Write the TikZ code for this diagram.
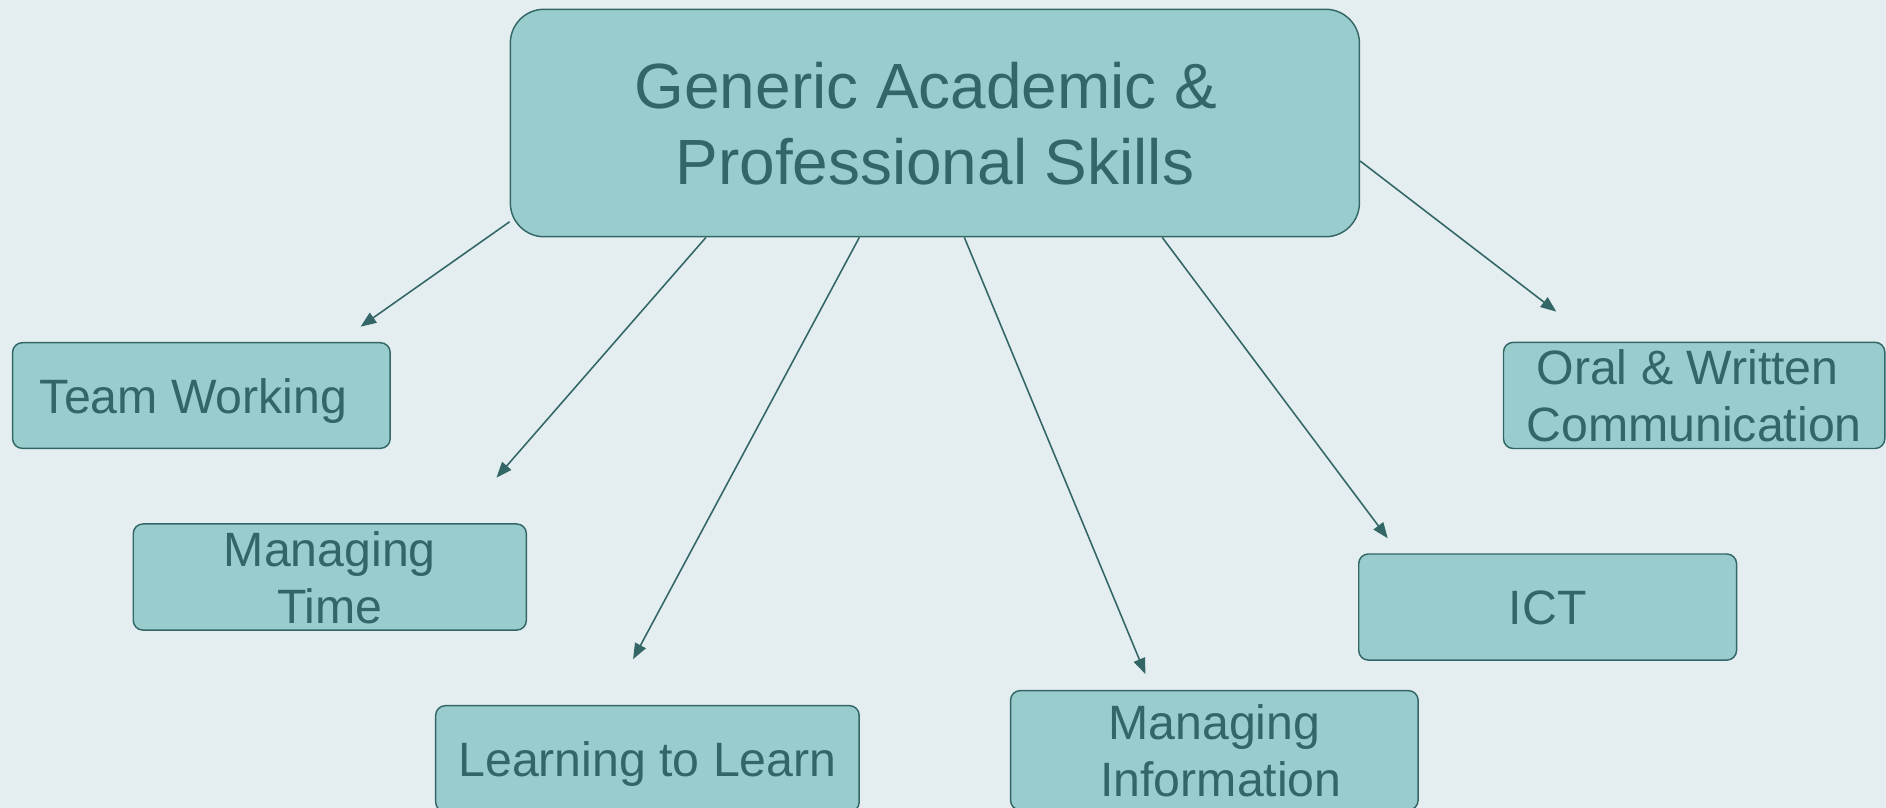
\documentclass[tikz,border=0pt]{standalone}
\usepackage{fontspec}
\setmainfont{Liberation Sans}
\usetikzlibrary{arrows.meta}
\definecolor{bgc}{HTML}{E4EEF0}
\definecolor{boxfill}{HTML}{99CCCC}
\definecolor{ink}{HTML}{336666}
\newcommand\lnstrut{\rule[-0.212em]{0pt}{1.167em}}
\newcommand\tightstrut{\rule[-0.141em]{0pt}{1.025em}}
\begin{document}
\begin{tikzpicture}[x=1pt,y=-1pt,
  skill/.style={draw=ink, fill=boxfill, line width=1.2pt, rounded corners=8pt,
    text=ink, align=center, inner sep=0pt,
    font=\fontsize{40}{47}\selectfont},
  hub/.style={skill, rounded corners=28pt,
    font=\fontsize{53}{63}\selectfont},
  link/.style={draw=ink, line width=1.3pt, -{Triangle[length=13pt,width=10pt]}}]
\fill[bgc] (0,0) rectangle (1564,670);
\useasboundingbox (0,0) rectangle (1564,670);

\node[hub, minimum width=704.1pt, minimum height=188.6pt] (main) at (775.25,102)
  {\lnstrut Generic Academic \&\hspace*{14.7pt}\\\lnstrut Professional Skills};

\node[skill, minimum width=313.1pt, minimum height=87.6pt] (tw) at (167,328)
  {\lnstrut Team Working\hspace*{13pt}};
\node[skill, minimum width=326pt, minimum height=88pt] (mt) at (273.5,478.5)
  {\tightstrut Managing\\\tightstrut Time};
\node[skill, minimum width=351.2pt, minimum height=88pt] (ll) at (536.9,629.2)
  {\lnstrut Learning to Learn};
\node[skill, minimum width=338pt, minimum height=99pt] (mi) at (1007,622.2)
  {\lnstrut Managing\\\lnstrut\hspace*{11pt}Information};
\node[skill, minimum width=313.3pt, minimum height=88pt] (ict) at (1283.4,503.4)
  {\lnstrut ICT};
\node[skill, minimum width=316.2pt, minimum height=88pt] (ow) at (1404.9,327.9)
  {\tightstrut Oral \& Written\hspace*{11pt}\\\tightstrut Communication};

\coordinate (t1) at (299,270.9);
\coordinate (t2) at (411.7,396.1);
\coordinate (t3) at (525,546.6);
\coordinate (t4) at (949.8,558.9);
\coordinate (t5) at (1150.8,446.4);
\coordinate (t6) at (1290.6,258.4);

\draw[link] ([yshift=13pt]main.south west) -- (t1);
\draw[link] ([xshift=162.8pt]main.south west) -- (t2);
\draw[link] ([xshift=290pt]main.south west) -- (t3);
\draw[link] ([xshift=377.1pt]main.south west) -- (t4);
\draw[link] ([xshift=541.2pt]main.south west) -- (t5);
\draw[link] ([yshift=-31.5pt]main.east) -- (t6);
\end{tikzpicture}
\end{document}
